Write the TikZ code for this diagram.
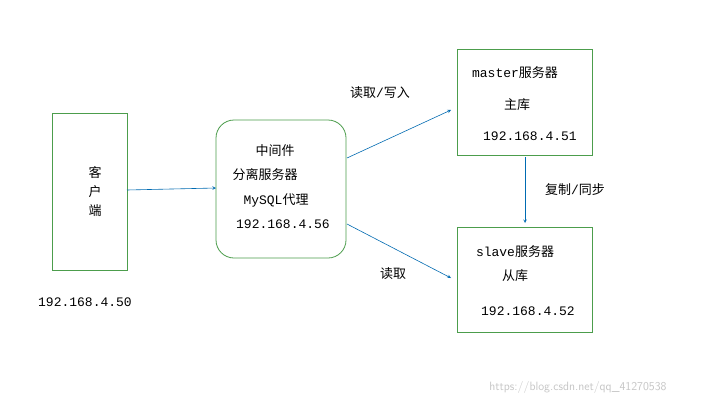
\documentclass[tikz,border=0pt]{standalone}
\usepackage{fontspec}
\setmainfont{Liberation Mono}
\newfontfamily\cjk{Noto Sans CJK SC}
\begin{document}
\begin{tikzpicture}[x=1pt,y=-1pt,
  box/.style={draw=green!45!black!70,line width=0.8pt},
  arr/.style={draw=blue!40!cyan!70!black,line width=0.6pt,-stealth},
  txt/.style={font=\fontsize{13}{15}\selectfont,inner sep=0pt}]
\useasboundingbox (0,0) rectangle (709,407);
\fill[white] (0,0) rectangle (709,407);
\node[box,minimum width=75pt,minimum height=157pt,inner sep=0pt] (cli) at (89.5,191.5) {};
\node[box,rounded corners=18pt,minimum width=130pt,minimum height=138pt,inner sep=0pt] (mid) at (281,189) {};
\node[box,minimum width=135pt,minimum height=106pt,inner sep=0pt] (mas) at (524.5,102) {};
\node[box,minimum width=135pt,minimum height=105pt,inner sep=0pt] (sla) at (524.5,279.5) {};
\node[txt] (c1) at (95,172) {\cjk 客};
\node[txt] (c2) at (95,192) {\cjk 户};
\node[txt] (c3) at (95,211) {\cjk 端};
\node[txt] (cip) at (85,302) {192.168.4.50};
\node[txt] (m1) at (275,151) {\cjk 中间件};
\node[txt] (m2) at (265,175) {\cjk 分离服务器};
\node[txt] (m3) at (276,200) {MySQL{\cjk 代理}};
\node[txt] (m4) at (283,224) {192.168.4.56};
\node[txt] (a1) at (515,73) {master{\cjk 服务器}};
\node[txt] (a2) at (517,105) {\cjk 主库};
\node[txt] (a3) at (530,136) {192.168.4.51};
\node[txt] (s1) at (515,252) {slave{\cjk 服务器}};
\node[txt] (s2) at (515,276) {\cjk 从库};
\node[txt] (s3) at (528,311) {192.168.4.52};
\node[txt] (l1) at (380,93) {{\cjk 读取}/{\cjk 写入}};
\node[txt] (l2) at (393,274) {\cjk 读取};
\node[txt] (l3) at (575,190) {{\cjk 复制}/{\cjk 同步}};
\node[txt,text=gray!45,font=\fontsize{12}{14}\selectfont\sffamily] (wm) at (578,387) {https://blog.csdn.net/qq\_41270538};
\coordinate (p1) at (127,190); \coordinate (q1) at (216,188);
\coordinate (p2) at (347,158); \coordinate (q2) at (451,110);
\coordinate (p3) at (347,224); \coordinate (q3) at (451,278);
\coordinate (p4) at (525,157); \coordinate (q4) at (525,223);
\draw[arr] (p1) -- (q1);
\draw[arr] (p2) -- (q2);
\draw[arr] (p3) -- (q3);
\draw[arr] (p4) -- (q4);
\end{tikzpicture}
\end{document}
